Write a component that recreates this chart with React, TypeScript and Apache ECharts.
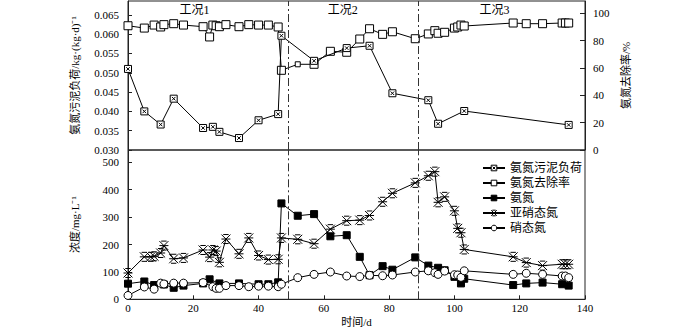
import React, { useEffect, useRef } from 'react';
import * as echarts from 'echarts';

// ---- data ----
const loadDays = [0, 5, 10, 14, 23, 26, 28, 34, 40, 46, 47, 57, 67, 74, 81, 92, 95, 103, 135];
const loadVals = [0.051, 0.040, 0.0366, 0.0433, 0.0357, 0.036, 0.0347, 0.0331, 0.0377, 0.0393, 0.0596, 0.0531, 0.0564, 0.057, 0.0447, 0.0429, 0.0368, 0.0401, 0.0365];

const remDays = [0, 5, 8, 10, 11, 14, 17, 23, 25, 26, 27, 28, 30, 34, 37, 40, 43, 46, 47, 52, 57, 62, 67, 71, 74, 78, 81, 88, 92, 94, 95, 97, 100, 101, 102, 103, 118, 122, 127, 133, 134, 135];
const remVals = [90.9, 89.2, 91.4, 90, 91.7, 92.4, 91.4, 90.2, 82.7, 91.4, 90.9, 90.2, 91.7, 90.2, 91.7, 91.4, 91.4, 90, 58.3, 62.7, 62.7, 72.2, 71.5, 81.2, 88.7, 84.6, 86.5, 81.4, 84.9, 87.3, 85.4, 86.1, 89.2, 90, 91.4, 90.7, 92.9, 92.4, 92.4, 92.9, 92.9, 92.9];

const nh4Days = [0, 5, 8, 11, 14, 17, 23, 25, 28, 34, 40, 43, 46, 47, 52, 57, 62, 67, 71, 74, 78, 81, 88, 92, 95, 97, 100, 102, 103, 118, 122, 127, 133, 135];
const nh4Vals = [57, 65, 52, 54, 42, 50, 58, 73, 58, 58, 55, 55, 62, 350, 305, 311, 230, 234, 155, 88, 121, 108, 153, 123, 115, 106, 82, 58, 75, 52, 58, 61, 55, 50];

const no2Days = [0, 5, 7, 8, 10, 11, 14, 17, 23, 25, 26, 27, 28, 30, 34, 37, 40, 43, 46, 47, 52, 57, 62, 67, 71, 74, 78, 81, 88, 92, 94, 95, 97, 100, 101, 102, 103, 118, 122, 127, 133, 134, 135];
const no2Vals = [96, 155, 155, 157, 169, 196, 148, 151, 180, 154, 180, 176, 135, 220, 166, 224, 160, 145, 146, 224, 219, 203, 256, 287, 289, 306, 356, 387, 425, 451, 466, 354, 374, 323, 259, 243, 182, 155, 134, 123, 128, 128, 128];

const no3Days = [0, 5, 8, 10, 11, 14, 17, 23, 26, 27, 28, 30, 34, 37, 40, 43, 46, 47, 52, 57, 62, 67, 71, 74, 78, 81, 88, 92, 94, 95, 97, 100, 101, 102, 103, 118, 122, 127, 133, 134, 135];
const no3Vals = [14, 45, 37, 59, 56, 59, 59, 61, 46, 40, 40, 50, 50, 46, 48, 48, 46, 55, 79, 91, 99.6, 85, 83, 87.6, 86, 88.7, 99.6, 104, 97, 91, 103, 89.7, 88.7, 80, 104, 91, 95, 91, 85, 85, 79];

const seriesNames = ['氨氮污泥负荷', '氨氮去除率', '氨氮', '亚硝态氮', '硝态氮'];
const phaseBounds = [49, 89];
const phaseLabels = ['工况1', '工况2', '工况3'];
const phaseLabelDays = [20.4, 65.8, 112.3];

const loadTicks = [0.030, 0.035, 0.040, 0.045, 0.050, 0.055, 0.060, 0.065];
const remTicks = [0, 20, 40, 60, 80, 100];
const concTicks = [0, 100, 200, 300, 400, 500];

const zip = (xs: number[], ys: number[]) => xs.map((x, i) => [x, ys[i]]);

const FONT = "'Liberation Serif', 'Times New Roman', 'Noto Sans CJK SC', serif";
const crossSquare = 'path://M0 0H10V10H0Z M2.5 2.5L7.5 7.5 M7.5 2.5L2.5 7.5';
const starSym = 'path://M0 0L10 10 M10 0L0 10 M0 5H10 M2 0H8 M2 10H8';

export default function App() {
  const ref = useRef<HTMLDivElement>(null);
  useEffect(() => {
    document.body.style.margin = '0';
    const chart = echarts.init(ref.current!, null, { renderer: 'svg' });
    const axisLineStyle = { color: '#222', width: 1 };
    const labelStyle = { color: '#000', fontSize: 11, fontFamily: FONT };
    const nameStyle = { color: '#000', fontSize: 11, fontFamily: FONT };
    const hollow = { color: '#fff', borderColor: '#000', borderWidth: 1 };
    const solid = { color: '#000', borderColor: '#000', borderWidth: 1 };
    const legendStyles = [hollow, hollow, solid, hollow, hollow];
    const vline = {
      silent: true,
      symbol: 'none',
      label: { show: false },
      lineStyle: { color: '#333', width: 1, type: [8, 3, 2, 3] },
      data: phaseBounds.map((b) => ({ xAxis: b })),
    };
    const option: any = {
      animation: false,
      backgroundColor: '#fff',
      textStyle: { fontFamily: FONT },
      grid: [
        { left: 128, right: 115, top: 1, height: 149, show: true, borderColor: '#222', borderWidth: 1 },
        { left: 128, right: 115, top: 150, height: 149.3, show: true, borderColor: '#222', borderWidth: 1 },
      ],
      xAxis: [
        {
          gridIndex: 0, type: 'value', min: 0, max: 140, interval: 20,
          axisLine: { show: false }, axisTick: { show: false }, axisLabel: { show: false }, splitLine: { show: false },
        },
        {
          gridIndex: 1, type: 'value', min: 0, max: 140, interval: 20,
          name: '时间/d', nameLocation: 'middle', nameGap: 17, nameTextStyle: nameStyle,
          axisLine: { lineStyle: axisLineStyle },
          axisTick: { inside: true, length: 4, lineStyle: axisLineStyle },
          axisLabel: { ...labelStyle, margin: 3 },
          splitLine: { show: false },
        },
      ],
      yAxis: [
        {
          gridIndex: 0, type: 'value', min: 0.030, max: 0.0686, position: 'left',
          name: '氨氮污泥负荷/kg·(kg·d)⁻¹', nameLocation: 'middle', nameGap: 48, nameRotate: 90, nameTextStyle: nameStyle,
          axisLine: { lineStyle: axisLineStyle },
          axisTick: { inside: true, length: 4, customValues: loadTicks, lineStyle: axisLineStyle },
          axisLabel: { ...labelStyle, margin: 9, customValues: loadTicks, formatter: (v: number) => v.toFixed(3) },
          splitLine: { show: false },
        },
        {
          gridIndex: 0, type: 'value', min: 0, max: 109, position: 'right',
          name: '氨氮去除率/%', nameLocation: 'middle', nameGap: 28, nameRotate: 90, nameTextStyle: nameStyle,
          axisLine: { lineStyle: axisLineStyle },
          axisTick: { inside: true, length: 5, customValues: remTicks, lineStyle: axisLineStyle },
          axisLabel: { ...labelStyle, margin: 8, customValues: remTicks },
          splitLine: { show: false },
        },
        {
          gridIndex: 1, type: 'value', min: 0, max: 545, position: 'left',
          name: '浓度/mg·L⁻¹', nameLocation: 'middle', nameGap: 48, nameRotate: 90, nameTextStyle: nameStyle,
          axisLine: { lineStyle: axisLineStyle },
          axisTick: { inside: true, length: 4, customValues: concTicks, lineStyle: axisLineStyle },
          axisLabel: { ...labelStyle, margin: 9, customValues: concTicks },
          splitLine: { show: false },
        },
      ],
      legend: {
        orient: 'vertical', left: 477, top: 157, itemWidth: 22, itemHeight: 7, itemGap: 3,
        textStyle: { color: '#000', fontSize: 12, fontFamily: FONT, lineHeight: 12 },
        data: seriesNames.map((n, i) => ({ name: n, itemStyle: legendStyles[i] })),
      },
      series: [
        {
          name: seriesNames[0], type: 'line', xAxisIndex: 0, yAxisIndex: 0,
          data: zip(loadDays, loadVals), symbol: crossSquare, symbolSize: 7,
          itemStyle: hollow,
          lineStyle: { color: '#000', width: 1 },
          markLine: vline, z: 3,
        },
        {
          name: seriesNames[1], type: 'line', xAxisIndex: 0, yAxisIndex: 1,
          data: zip(remDays, remVals), symbol: 'rect',
          symbolSize: (_v: any, p: any) => (p && p.dataIndex === 19 ? 5 : 8),
          itemStyle: hollow,
          lineStyle: { color: '#000', width: 1 }, z: 2,
        },
        {
          name: seriesNames[2], type: 'line', xAxisIndex: 1, yAxisIndex: 2,
          data: zip(nh4Days, nh4Vals), symbol: 'rect', symbolSize: 7,
          itemStyle: solid,
          lineStyle: { color: '#000', width: 1 },
          markLine: vline,
        },
        {
          name: seriesNames[3], type: 'line', xAxisIndex: 1, yAxisIndex: 2,
          data: zip(no2Days, no2Vals), symbol: starSym, symbolSize: 9,
          itemStyle: hollow,
          lineStyle: { color: '#000', width: 1 },
        },
        {
          name: seriesNames[4], type: 'line', xAxisIndex: 1, yAxisIndex: 2,
          data: zip(no3Days, no3Vals), symbol: 'circle', symbolSize: 8,
          itemStyle: hollow,
          lineStyle: { color: '#000', width: 1 },
        },
      ],
    };
    chart.setOption(option);
    const xs = phaseLabelDays.map((d) => chart.convertToPixel({ xAxisIndex: 0 }, d) as number);
    chart.setOption({
      graphic: phaseLabels.map((t, i) => ({
        type: 'text', x: xs[i], y: 10, silent: true,
        style: { text: t, fill: '#000', fontSize: 12, fontFamily: FONT, align: 'center', verticalAlign: 'middle', textAlign: 'center', textVerticalAlign: 'middle' },
      })),
    });
    return () => chart.dispose();
  }, []);
  return <div ref={ref} style={{ width: 700, height: 330 }} />;
}
